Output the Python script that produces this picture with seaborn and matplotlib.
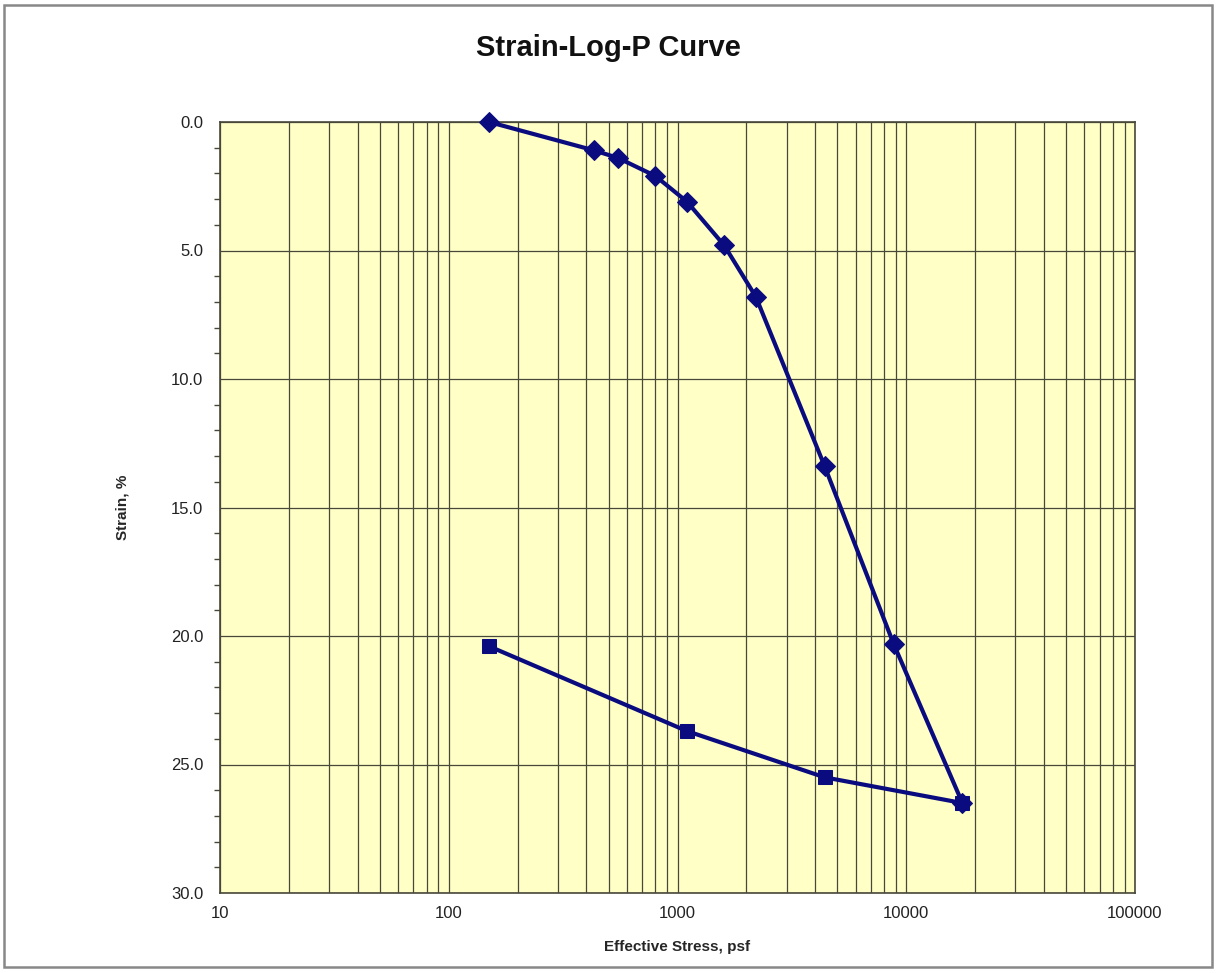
import matplotlib
matplotlib.use("Agg")
import matplotlib.pyplot as plt
import matplotlib.ticker as mticker
from matplotlib.patches import Rectangle
import seaborn as sns
import pandas as pd
import numpy as np

# ---- data ----
load_stress = [150, 430, 550, 800, 1100, 1600, 2200, 4400, 8800, 17600]
load_strain = [0.0, 1.1, 1.4, 2.1, 3.1, 4.8, 6.8, 13.4, 20.3, 26.5]
unload_stress = [17600, 4400, 1100, 150]
unload_strain = [26.5, 25.5, 23.7, 20.4]

x_ticks = [10, 100, 1000, 10000, 100000]
x_tick_labels = ["10", "100", "1000", "10000", "100000"]
y_ticks = [0, 5, 10, 15, 20, 25, 30]
y_tick_labels = ["0.0", "5.0", "10.0", "15.0", "20.0", "25.0", "30.0"]

title = "Strain-Log-P Curve"
x_label = "Effective Stress, psf"
y_label = "Strain, %"

sns.set_style("white")
plt.rcParams["font.family"] = ["Liberation Sans", "DejaVu Sans"]

W, H = 1217, 973
fig = plt.figure(figsize=(W / 100, H / 100), dpi=100)
fig.patch.set_facecolor("white")
ax = fig.add_axes([220 / W, 1 - 893 / H, (1135 - 220) / W, (893 - 122) / H])
ax.set_facecolor("#FFFFC6")

df_load = pd.DataFrame({"stress": load_stress, "strain": load_strain})
df_unload = pd.DataFrame({"stress": unload_stress, "strain": unload_strain})

navy = "#0B0B80"
sns.lineplot(data=df_load, x="stress", y="strain", sort=False, ax=ax,
             color=navy, linewidth=3.0, marker="D", markersize=10.5,
             markeredgecolor=navy, markerfacecolor=navy, zorder=5,
             clip_on=False)
sns.lineplot(data=df_unload, x="stress", y="strain", sort=False, ax=ax,
             color=navy, linewidth=3.0, marker="s", markersize=9.5,
             markeredgecolor=navy, markerfacecolor=navy, zorder=5,
             clip_on=False)

ax.set_xscale("log")
ax.set_xlim(10, 100000)
ax.set_ylim(30, 0)

ax.xaxis.set_major_locator(mticker.FixedLocator(x_ticks))
ax.xaxis.set_major_formatter(mticker.FixedFormatter(x_tick_labels))
ax.xaxis.set_minor_locator(mticker.LogLocator(base=10, subs=np.arange(2, 10)))
ax.xaxis.set_minor_formatter(mticker.NullFormatter())
ax.yaxis.set_major_locator(mticker.FixedLocator(y_ticks))
ax.yaxis.set_major_formatter(mticker.FixedFormatter(y_tick_labels))
ax.yaxis.set_minor_locator(mticker.MultipleLocator(1))

gcol = "#48483A"
ax.grid(True, which="major", axis="both", color=gcol, linewidth=0.9)
ax.grid(True, which="minor", axis="x", color=gcol, linewidth=0.9)
ax.set_axisbelow(True)

ax.tick_params(axis="both", which="major", direction="inout", length=8,
               width=1.0, color=gcol, labelsize=12, labelcolor="#222222")
ax.tick_params(axis="x", which="major", pad=5)
ax.tick_params(axis="y", which="major", pad=8)
ax.tick_params(axis="y", which="minor", direction="out", length=4,
               width=1.0, color=gcol, left=True)
ax.tick_params(axis="x", which="minor", length=0)

for side in ["left", "bottom", "top", "right"]:
    ax.spines[side].set_color(gcol)
    ax.spines[side].set_linewidth(1.2)

ax.set_xlabel(x_label, fontsize=11, fontweight="bold", labelpad=14)
ax.set_ylabel(y_label, fontsize=11, fontweight="bold", labelpad=30)

fig.text(0.5, 1 - 48 / H, title, ha="center", va="center",
         fontsize=21, fontweight="bold", color="#111111")

fig.patches.append(Rectangle((4 / W, 6 / H), 1208 / W, 962 / H,
                             transform=fig.transFigure, fill=False,
                             edgecolor="#888888", linewidth=1.8))

fig.savefig("out.png", dpi=100)
